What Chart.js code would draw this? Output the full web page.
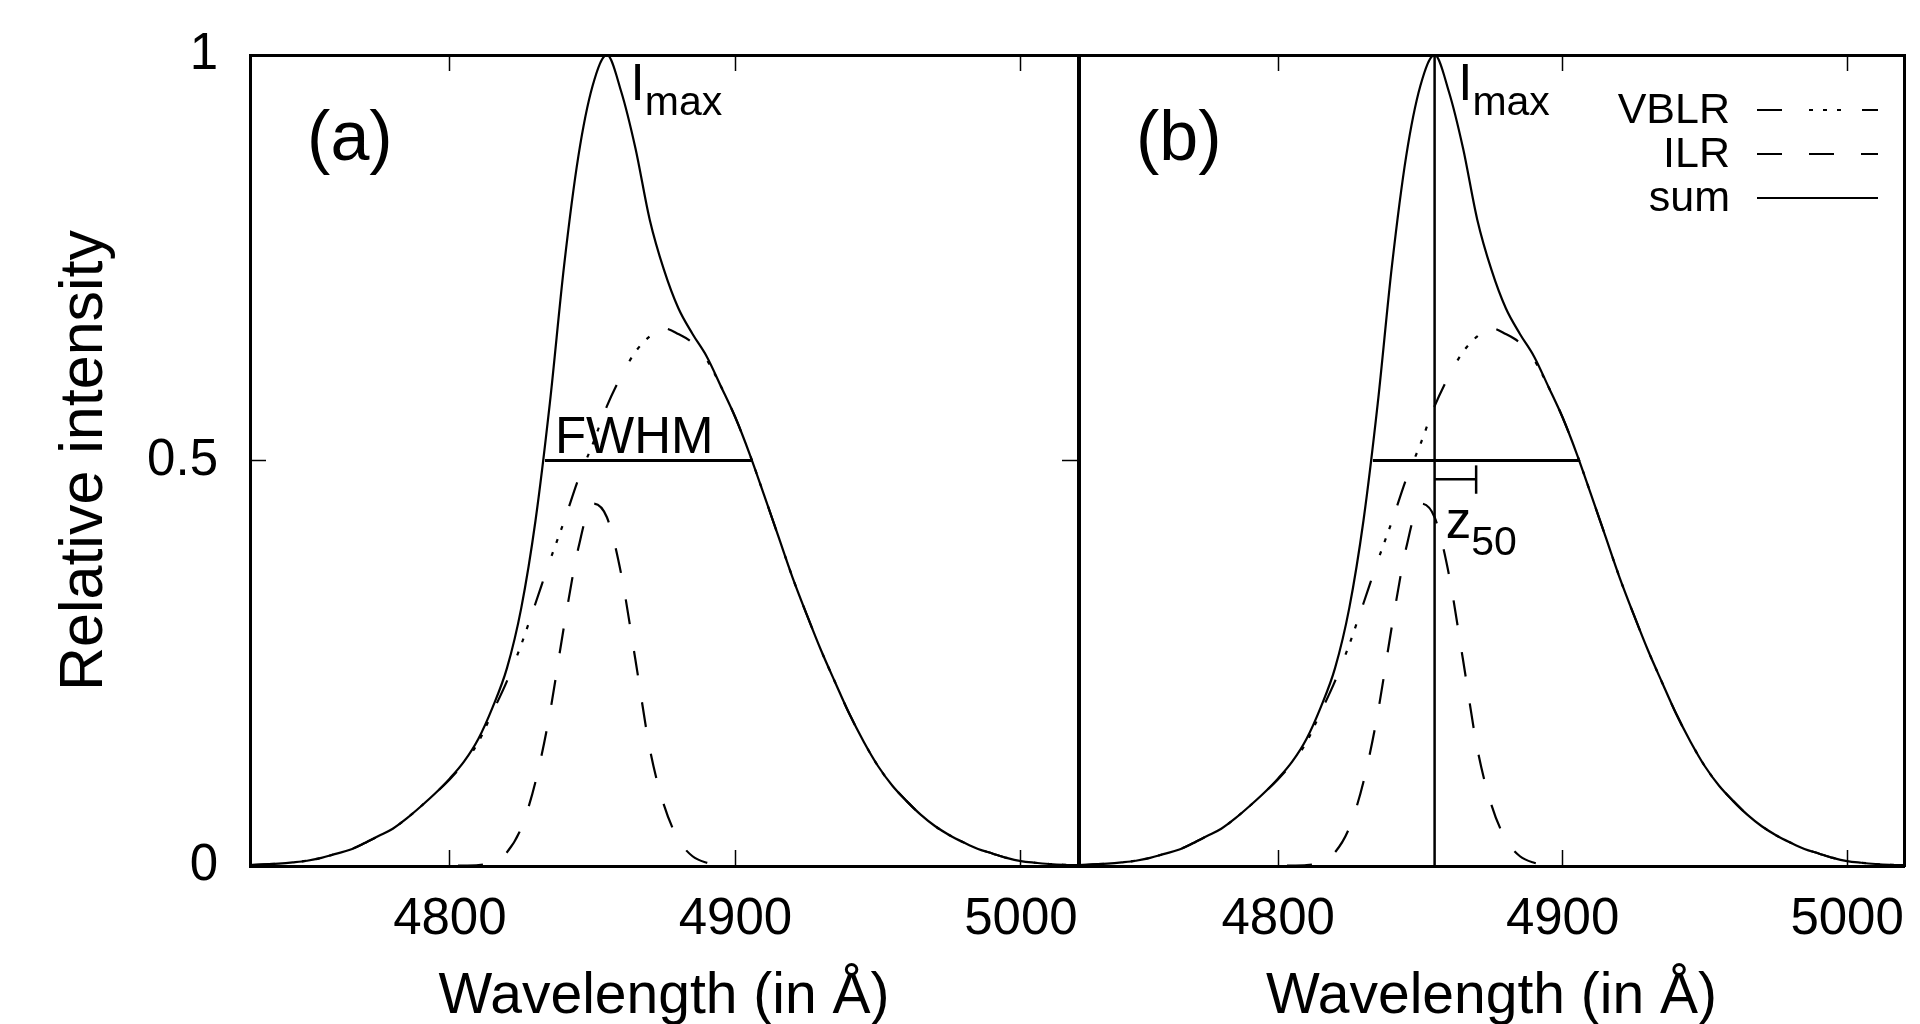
<!DOCTYPE html>
<html>
<head>
<meta charset="utf-8">
<title>VBLR / ILR line profile</title>
<script src="https://cdn.jsdelivr.net/npm/chart.js@4.4.1/dist/chart.umd.min.js"></script>
<style>
  html, body { margin: 0; padding: 0; background: #fff; }
  #wrap { position: relative; width: 1920px; height: 1024px; }
  #wrap canvas { position: absolute; left: 0; top: 0; }
</style>
</head>
<body>
<div id="wrap">
  <canvas id="panelA" width="1920" height="1024"></canvas>
  <canvas id="panelB" width="1920" height="1024"></canvas>
</div>
<script>
// values
const wavelengths = [4730, 4735, 4740, 4745, 4750, 4755, 4760, 4765, 4770, 4775,
  4780, 4785, 4790, 4795, 4800, 4805, 4810, 4815, 4820, 4825,
  4830, 4835, 4840, 4845, 4850, 4855, 4860, 4865, 4870, 4875,
  4880, 4885, 4890, 4895, 4900, 4905, 4910, 4915, 4920, 4925,
  4930, 4935, 4940, 4945, 4950, 4955, 4960, 4965, 4970, 4975,
  4980, 4985, 4990, 4995, 5000, 5005, 5010, 5015, 5020];

const sumValues = [0.001, 0.002, 0.003, 0.0045, 0.0065, 0.010, 0.015, 0.020, 0.028, 0.037,
  0.046, 0.059, 0.074, 0.090, 0.108, 0.129, 0.157, 0.196, 0.244, 0.318,
  0.426, 0.570, 0.740, 0.875, 0.962, 1.000, 0.955, 0.885, 0.797, 0.735,
  0.688, 0.656, 0.628, 0.591, 0.553, 0.508, 0.458, 0.407, 0.356, 0.310,
  0.266, 0.226, 0.187, 0.153, 0.123, 0.099, 0.080, 0.063, 0.049, 0.038,
  0.029, 0.021, 0.0155, 0.010, 0.006, 0.004, 0.0025, 0.0015, 0.001];

const vblrValues = [0.001, 0.002, 0.003, 0.0045, 0.0065, 0.010, 0.015, 0.020, 0.028, 0.037,
  0.046, 0.059, 0.074, 0.090, 0.107, 0.127, 0.153, 0.190, 0.228, 0.273,
  0.324, 0.376, 0.425, 0.477, 0.520, 0.567, 0.604, 0.634, 0.653, 0.663,
  0.656, 0.645, 0.624, 0.591, 0.553, 0.508, 0.458, 0.407, 0.356, 0.310,
  0.266, 0.226, 0.187, 0.153, 0.123, 0.099, 0.080, 0.063, 0.049, 0.038,
  0.029, 0.021, 0.0155, 0.010, 0.006, 0.004, 0.0025, 0.0015, 0.001];

const ilrValues = [0, 0, 0, 0, 0, 0, 0, 0, 0, 0,
  0, 0, 0, 0, 0.0002, 0.0005, 0.001, 0.005, 0.017, 0.047,
  0.104, 0.188, 0.296, 0.392, 0.447, 0.430, 0.360, 0.254, 0.145, 0.075,
  0.033, 0.012, 0.004, 0.001, 0, 0, 0, 0, 0, 0,
  0, 0, 0, 0, 0, 0, 0, 0, 0, 0,
  0, 0, 0, 0, 0, 0, 0, 0, 0];

const xTickValues = [4800, 4900, 5000];
const xTickLabels = ['4800', '4900', '5000'];
const yTickValues = [0, 0.5, 1];
const yTickLabels = ['0', '0.5', '1'];

// FWHM, peak and z50 marks (wavelength in A, intensity)
const fwhmEnds = [4833.3, 4905.9];
const halfMax = 0.5;
const peakWavelength = 4855;
const z50Ends = [4855, 4869.6];
const z50Level = 0.477;
const z50Bar = [0.459, 0.494];

const FONT = "'Liberation Sans', Arial, sans-serif";
Chart.defaults.font.family = FONT;
Chart.defaults.color = '#000';

function series(values) {
  return wavelengths.map((w, i) => ({x: w, y: values[i]}));
}

function curve(label, values, dash) {
  return {
    label: label,
    data: series(values),
    borderColor: '#000',
    borderWidth: 2.2,
    borderDash: dash,
    pointRadius: 0,
    fill: false,
    cubicInterpolationMode: 'monotone',
    xAxisID: 'x',
    yAxisID: 'y'
  };
}

function segment(points, width) {
  return {
    label: '',
    data: points,
    borderColor: '#000',
    borderWidth: width,
    pointRadius: 0,
    fill: false,
    tension: 0,
    xAxisID: 'x',
    yAxisID: 'y'
  };
}

const vblrDash = [25, 27, 4, 10, 4, 10, 4, 21];
const ilrDash = [25, 27];

// text placed in data coordinates: [wavelength, intensity]
const panelLabelAt = [4750, 0.870];
const imaxAt = [4863.3, 0.9445];
const fwhmLabelAt = [4836.8, 0.509];
const z50LabelAt = [4858.9, 0.405];

function textWithSub(ctx, main, sub, x, y, size, subSize, drop) {
  ctx.font = size + 'px ' + FONT;
  ctx.fillText(main, x, y);
  const w = ctx.measureText(main).width;
  ctx.font = subSize + 'px ' + FONT;
  ctx.fillText(sub, x + w, y + drop);
}

const panelNotes = {
  id: 'panelNotes',
  afterDatasetsDraw(chart, args, opts) {
    const {ctx, chartArea} = chart;
    const px = v => chart.scales.x.getPixelForValue(v);
    const py = v => chart.scales.y.getPixelForValue(v);
    ctx.save();
    ctx.fillStyle = '#000';
    ctx.strokeStyle = '#000';
    ctx.textAlign = 'left';
    ctx.textBaseline = 'alphabetic';

    ctx.font = '70px ' + FONT;
    ctx.fillText(opts.label, px(panelLabelAt[0]), py(panelLabelAt[1]));

    textWithSub(ctx, 'I', 'max', px(imaxAt[0]), py(imaxAt[1]), 51, 41, 15);

    if (opts.fwhm) {
      ctx.font = '51px ' + FONT;
      ctx.fillText('FWHM', px(fwhmLabelAt[0]), py(fwhmLabelAt[1]));
    }
    if (opts.z50) {
      textWithSub(ctx, 'z', '50', px(z50LabelAt[0]), py(z50LabelAt[1]), 51, 41, 17);
    }
    if (opts.legend) {
      // gnuplot style key: label on the left, line sample on the right
      const sets = chart.data.datasets.slice(0, 3);
      ctx.font = '43px ' + FONT;
      ctx.textAlign = 'right';
      ctx.lineWidth = 2.2;
      sets.forEach((ds, i) => {
        const base = chartArea.top + 68 + i * 44;
        ctx.fillText(ds.label, chartArea.right - 174, base);
        ctx.setLineDash(ds.borderDash || []);
        ctx.beginPath();
        ctx.moveTo(chartArea.right - 147, base - 13);
        ctx.lineTo(chartArea.right - 26, base - 13);
        ctx.stroke();
      });
      ctx.setLineDash([]);
    }
    ctx.restore();
  }
};

function setTicks(values) {
  return scale => { scale.ticks = values.map(v => ({value: v})); };
}

// fixed box sizes, no extra room for overhanging labels
function fixBox(size, horizontal) {
  return s => {
    if (horizontal) s.height = size; else s.width = size;
    s.paddingLeft = 0; s.paddingRight = 0; s.paddingTop = 0; s.paddingBottom = 0;
  };
}

const tickGrid = {drawOnChartArea: false, tickLength: -16, tickWidth: 1.5, tickColor: '#000'};
const frame = {color: '#000', width: 3};

function buildScales(withYAxis) {
  return {
    x: {
      type: 'linear', position: 'bottom', min: 4730, max: 5020,
      afterBuildTicks: setTicks(xTickValues),
      ticks: {callback: (v, i) => xTickLabels[i], font: {size: 51, lineHeight: 1.2},
              padding: 39, maxRotation: 0, autoSkip: false},
      grid: tickGrid, border: frame,
      title: {display: true, text: 'Wavelength (in Å)', font: {size: 57, lineHeight: 0.95},
              padding: {top: 0, bottom: 0}},
      afterFit: fixBox(158, true)
    },
    xTop: {
      type: 'linear', position: 'top', min: 4730, max: 5020,
      afterBuildTicks: setTicks(xTickValues),
      ticks: {display: false},
      grid: tickGrid, border: frame,
      afterFit: fixBox(0, true)
    },
    y: withYAxis ? {
      type: 'linear', position: 'left', min: 0, max: 1,
      afterBuildTicks: setTicks(yTickValues),
      ticks: {callback: (v, i) => yTickLabels[i], font: {size: 51, lineHeight: 1.2}, padding: 48},
      grid: tickGrid, border: frame,
      title: {display: true, text: 'Relative intensity', font: {size: 61, lineHeight: 1},
              padding: {top: 55, bottom: 0}},
      afterFit: fixBox(250, false)
    } : {
      type: 'linear', position: 'left', min: 0, max: 1,
      ticks: {display: false},
      grid: {display: false}, border: frame,
      afterFit: fixBox(0, false)
    },
    yRight: {
      type: 'linear', position: 'right', min: 0, max: 1,
      afterBuildTicks: setTicks(yTickValues),
      ticks: {display: false},
      grid: withYAxis ? tickGrid : {display: false}, border: frame,
      afterFit: fixBox(0, false)
    }
  };
}

function baseSets() {
  return [
    curve('VBLR', vblrValues, vblrDash),
    curve('ILR', ilrValues, ilrDash),
    curve('sum', sumValues, []),
    segment([{x: fwhmEnds[0], y: halfMax}, {x: fwhmEnds[1], y: halfMax}], 3)
  ];
}

new Chart(document.getElementById('panelA'), {
  type: 'line',
  data: {datasets: baseSets()},
  options: {
    responsive: false,
    animation: false,
    events: [],
    layout: {padding: {left: 0, top: 55, right: 842, bottom: 0}},
    scales: buildScales(true),
    plugins: {
      legend: {display: false},
      tooltip: {enabled: false},
      panelNotes: {label: '(a)', fwhm: true, z50: false, legend: false}
    }
  },
  plugins: [panelNotes]
});

const setsB = baseSets();
setsB.push(segment([{x: peakWavelength, y: 0}, {x: peakWavelength, y: 1}], 2.5));
setsB.push(segment([{x: z50Ends[0], y: z50Level}, {x: z50Ends[1], y: z50Level}], 2.5));
setsB.push(segment([{x: z50Ends[1], y: z50Bar[0]}, {x: z50Ends[1], y: z50Bar[1]}], 2.5));

new Chart(document.getElementById('panelB'), {
  type: 'line',
  data: {datasets: setsB},
  options: {
    responsive: false,
    animation: false,
    events: [],
    layout: {padding: {left: 1079, top: 55, right: 16, bottom: 0}},
    scales: buildScales(false),
    plugins: {
      legend: {display: false},
      tooltip: {enabled: false},
      panelNotes: {label: '(b)', fwhm: false, z50: true, legend: true}
    }
  },
  plugins: [panelNotes]
});
</script>
</body>
</html>
